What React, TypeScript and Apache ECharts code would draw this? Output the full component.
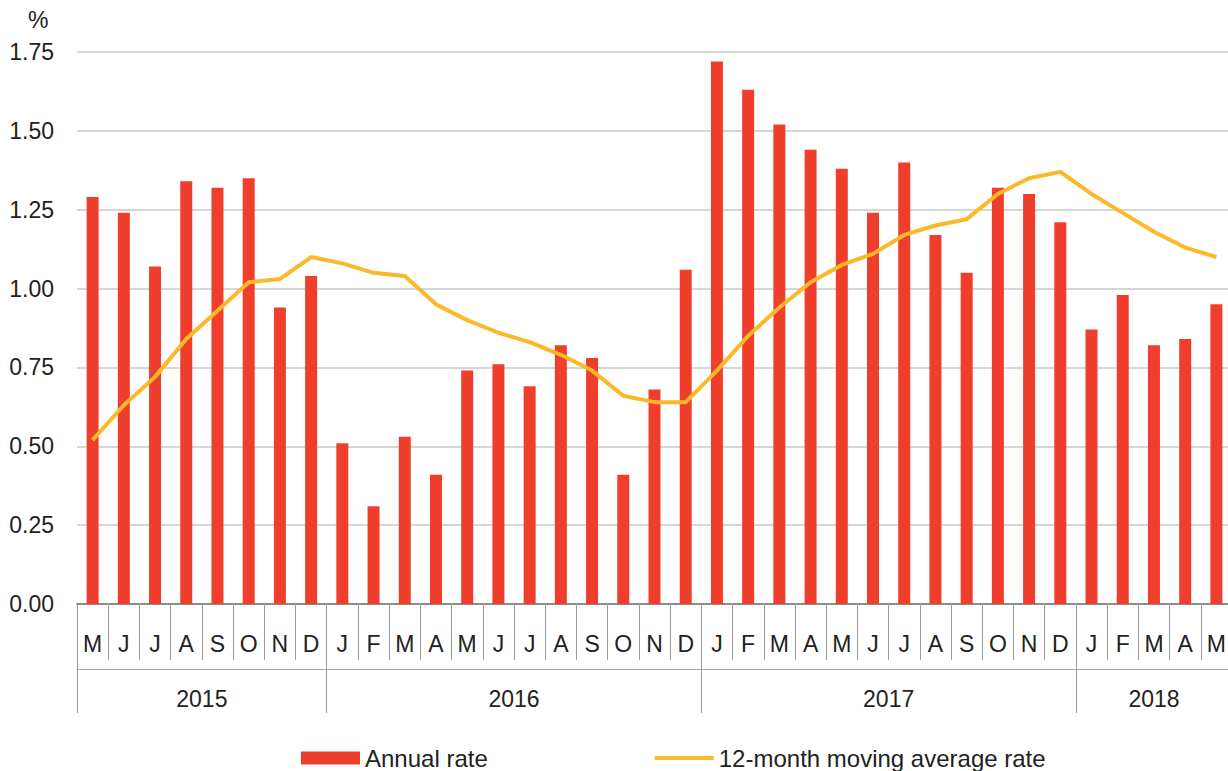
import React, { useEffect, useRef } from "react";
import * as echarts from "echarts";

const months = [
  "M", "J", "J", "A", "S", "O", "N", "D",
  "J", "F", "M", "A", "M", "J", "J", "A", "S", "O", "N", "D",
  "J", "F", "M", "A", "M", "J", "J", "A", "S", "O", "N", "D",
  "J", "F", "M", "A", "M",
];
const years = ["2015", "2016", "2017", "2018"];
const monthsPerYear = [8, 12, 12, 5];

const annualRate = [
  1.29, 1.24, 1.07, 1.34, 1.32, 1.35, 0.94, 1.04,
  0.51, 0.31, 0.53, 0.41, 0.74, 0.76, 0.69, 0.82, 0.78, 0.41, 0.68, 1.06,
  1.72, 1.63, 1.52, 1.44, 1.38, 1.24, 1.40, 1.17, 1.05, 1.32, 1.30, 1.21,
  0.87, 0.98, 0.82, 0.84, 0.95,
];
const movingAverage = [
  0.52, 0.63, 0.72, 0.84, 0.93, 1.02, 1.03, 1.10,
  1.08, 1.05, 1.04, 0.95, 0.90, 0.86, 0.83, 0.79, 0.74, 0.66, 0.64, 0.64,
  0.74, 0.85, 0.94, 1.02, 1.075, 1.11, 1.17, 1.20, 1.22, 1.30, 1.35, 1.37,
  1.30, 1.24, 1.18, 1.13, 1.10,
];

const FONT = "'Liberation Sans', Arial, sans-serif";
const TEXT = "#222222";

export default function App() {
  const ref = useRef<HTMLDivElement>(null);

  useEffect(() => {
    if (!ref.current) return;
    const chart = echarts.init(ref.current, undefined, { renderer: "svg" });

    // year axis: half-month slots, boundaryGap false -> 2*n+1 points
    const n = months.length;
    const yearData: string[] = new Array(2 * n + 1).fill("");
    const yearTicks = new Set<number>();
    let start = 0;
    years.forEach((y, i) => {
      const c = monthsPerYear[i];
      yearData[2 * start + c] = y;
      yearTicks.add(2 * start);
      start += c;
    });
    yearTicks.add(2 * n);

    chart.setOption({
      animation: false,
      textStyle: { fontFamily: FONT },
      grid: { left: 77, right: 0, top: 52, bottom: 167, containLabel: false },
      graphic: [
        {
          type: "text",
          left: 28,
          top: 8,
          style: { text: "%", font: `23px ${FONT}`, fill: TEXT },
        },
      ],
      legend: {
        left: 296,
        top: 741,
        itemWidth: 59,
        itemHeight: 13,
        itemGap: 165,
        textStyle: { fontSize: 24, color: TEXT, fontFamily: FONT },
        data: [
          { name: "Annual rate", icon: "rect" },
          {
            name: "12-month moving average rate",
            itemStyle: { opacity: 0 },
            lineStyle: { width: 4, color: "#FBB829" },
          },
        ],
      },
      xAxis: [
        {
          type: "category",
          data: months,
          boundaryGap: true,
          axisLine: { show: true, lineStyle: { color: "#8c8c8c", width: 2 } },
          axisTick: { show: true, length: 56, interval: 0, lineStyle: { color: "#9a9a9a", width: 1 } },
          axisLabel: { interval: 0, margin: 28, fontSize: 23, color: TEXT, fontFamily: FONT },
          splitLine: { show: false },
        },
        {
          type: "category",
          data: yearData,
          boundaryGap: false,
          position: "bottom",
          offset: 0,
          axisLine: { show: false },
          axisTick: {
            show: true,
            length: 109,
            interval: (idx: number) => yearTicks.has(idx),
            lineStyle: { color: "#9a9a9a", width: 1 },
          },
          axisLabel: { interval: 0, margin: 83, fontSize: 23, color: TEXT, fontFamily: FONT },
          splitLine: { show: false },
        },
        {
          type: "category",
          data: months,
          position: "bottom",
          offset: 65,
          axisLine: { show: true, lineStyle: { color: "#aaaaaa", width: 1 } },
          axisTick: { show: false },
          axisLabel: { show: false },
          splitLine: { show: false },
        },
      ],
      yAxis: {
        type: "value",
        min: 0,
        max: 1.75,
        interval: 0.25,
        axisLine: { show: false },
        axisTick: { show: false },
        axisLabel: {
          margin: 23,
          fontSize: 23,
          color: TEXT,
          fontFamily: FONT,
          formatter: (v: number) => v.toFixed(2),
        },
        splitLine: { show: true, lineStyle: { color: "#d6d6d6", width: 2 } },
      },
      series: [
        {
          name: "Annual rate",
          type: "bar",
          xAxisIndex: 0,
          data: annualRate,
          barWidth: 12,
          itemStyle: { color: "#EF3F2C" },
        },
        {
          name: "12-month moving average rate",
          type: "line",
          xAxisIndex: 0,
          data: movingAverage,
          symbol: "none",
          lineStyle: { color: "#FBB829", width: 4 },
          itemStyle: { color: "#FBB829" },
          z: 5,
        },
      ],
    });

    return () => chart.dispose();
  }, []);

  return (
    <div
      style={{ position: "absolute", left: 0, top: 0, width: 1228, height: 771, overflow: "hidden" }}
    >
      <div ref={ref} style={{ width: 1235, height: 771 }} />
    </div>
  );
}
